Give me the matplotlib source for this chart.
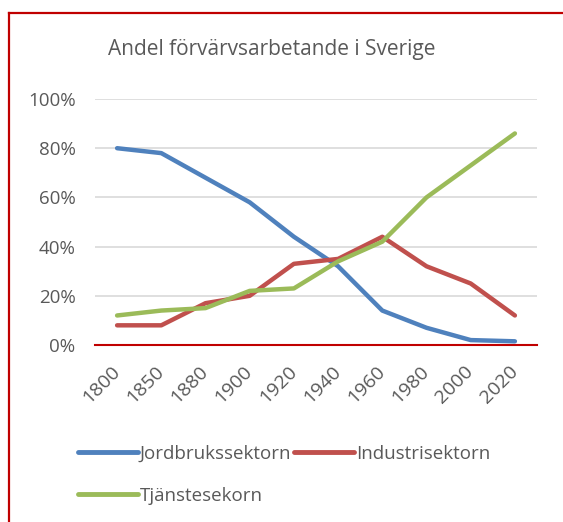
import matplotlib.pyplot as plt
import matplotlib.transforms as mtransforms
from matplotlib.lines import Line2D
from matplotlib.ticker import PercentFormatter

plt.rcParams['font.family'] = ['Open Sans', 'DejaVu Sans']

# data
years = ['1800', '1850', '1880', '1900', '1920', '1940', '1960', '1980', '2000', '2020']
jordbruk = [80, 78, 68, 58, 44, 32, 14, 7, 2, 1.5]
industri = [8, 8, 17, 20, 33, 35, 44, 32, 25, 12]
tjanste = [12, 14, 15, 22, 23, 34, 42, 60, 73, 86]
series_names = ['Jordbrukssektorn', 'Industrisektorn', 'Tjänstesekorn']

colors = ['#4F81BD', '#C0504D', '#9BBB59']
grey = '#595959'

fig = plt.figure(figsize=(5.63, 5.22), dpi=100)
ax = fig.add_axes([95/563, 1-345/522, 442/563, 246/522])

x = range(len(years))
for vals, name, c in zip([jordbruk, industri, tjanste], series_names, colors):
    ax.plot(x, vals, color=c, lw=3.2, label=name, solid_capstyle='round', solid_joinstyle='round')

ax.set_xlim(-0.5, len(years) - 0.5)
ax.set_ylim(0, 100)
ax.set_yticks(range(0, 101, 20))
ax.yaxis.set_major_formatter(PercentFormatter(decimals=0))
ax.set_xticks(list(x))
ax.set_xticklabels(years, rotation=45, ha='right', va='center', rotation_mode='anchor')
shift = mtransforms.ScaledTranslation(3/72, 0, fig.dpi_scale_trans)
for lab in ax.get_xticklabels():
    lab.set_transform(lab.get_transform() + shift)
ax.tick_params(axis='y', length=0, pad=14, labelsize=13.5, labelcolor=grey)
ax.tick_params(axis='x', length=0, pad=17, labelsize=14, labelcolor=grey)
ax.grid(axis='y', color='#D9D9D9', lw=1.2)
ax.set_axisbelow(True)
for s in ['top', 'right', 'left']:
    ax.spines[s].set_visible(False)
ax.spines['bottom'].set_color('#C00000')
ax.spines['bottom'].set_linewidth(1.5)
ax.spines['bottom'].set_zorder(1)

fig.text(272/563, 1-50/522, 'Andel förvärvsarbetande i Sverige', ha='center', va='center',
         fontsize=15, color=grey)

# legend is filled row by row in the reference: order for column-wise filling
handles = [Line2D([], [], color=c, lw=3.5, solid_capstyle='round') for c in colors]
order = [0, 2, 1]
fig.legend([handles[i] for i in order], [series_names[i] for i in order],
           loc='upper left', bbox_to_anchor=(78/563, 1-445/522),
           ncol=2, frameon=False, fontsize=13.5, labelcolor=grey, handlelength=3.2,
           handletextpad=0.1, columnspacing=0.15, labelspacing=1.28, borderaxespad=0,
           borderpad=0)

# red outer frame (cut at right/bottom in the reference)
fig.add_artist(Line2D([9/563, 9/563], [0, 1-13/522], color='#C00000', lw=1.6, transform=fig.transFigure))
fig.add_artist(Line2D([9/563, 1], [1-13/522, 1-13/522], color='#C00000', lw=1.6, transform=fig.transFigure))

fig.savefig('out.png', dpi=100)
